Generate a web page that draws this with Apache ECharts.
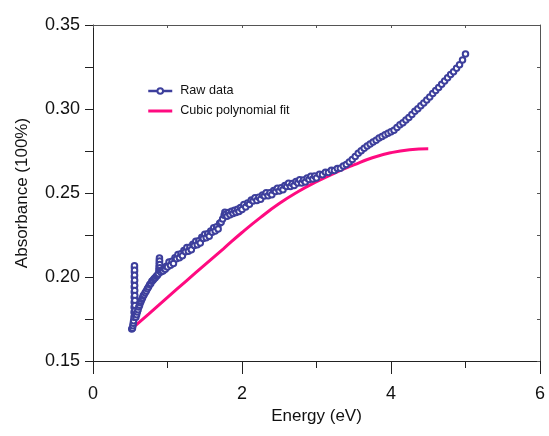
<!DOCTYPE html>
<html>
<head>
<meta charset="utf-8">
<script src="https://cdn.jsdelivr.net/npm/echarts@6/dist/echarts.min.js"></script>
<style>
html,body{margin:0;padding:0;background:#fff;}
#chart{width:549px;height:436px;}
</style>
</head>
<body>
<div id="chart"></div>
<script>
// ---- Data ----
var rawEnergy = [
  0.520,0.530,0.535,0.540,0.545,
  0.550,0.551,0.552,0.553,0.553,0.554,0.554,0.555,0.555,0.556,0.556,0.557,
  0.558,0.558,0.559,0.559,0.560,0.561,0.562,0.563,0.565,0.568,
  0.575,0.585,0.595,0.605,0.615,0.625,0.635,0.645,0.655,0.665,0.675,0.685,
  0.700,0.715,0.730,0.745,0.760,0.775,0.790,0.805,0.820,0.835,0.850,0.865,0.878,
  0.884,0.886,0.888,0.890,0.892,0.894,0.896,0.898,0.900,
  0.910,0.925,0.940,0.955,0.970,0.985,1.000,
  1.02,1.04,1.06,1.08,1.10,1.12,1.14,1.16,1.18,1.20,
  1.22,1.24,1.26,1.28,1.30,1.32,1.34,1.36,1.38,1.40,
  1.42,1.44,1.46,1.48,1.50,1.52,1.54,1.56,1.58,1.60,
  1.62,1.64,1.66,1.68,1.70,1.72,1.74,1.76,1.77,1.78,
  1.80,1.82,1.84,1.86,1.88,1.90,1.92,1.94,1.96,1.98,2.00,
  2.025,2.050,2.075,2.100,2.125,2.150,2.175,2.200,2.225,2.250,
  2.275,2.300,2.325,2.350,2.375,2.400,2.425,2.450,2.475,2.500,
  2.525,2.550,2.575,2.600,2.625,2.650,2.675,2.700,2.725,2.750,
  2.775,2.800,2.825,2.850,2.875,2.900,2.925,2.950,2.975,3.000,
  3.04,3.08,3.12,3.16,3.20,3.24,3.28,3.32,3.36,3.40,
  3.44,3.48,3.52,3.56,3.60,3.64,3.68,3.72,3.76,3.80,
  3.84,3.88,3.92,3.96,4.00,4.04,4.08,4.12,4.16,4.20,
  4.24,4.28,4.32,4.36,4.40,4.44,4.48,4.52,4.56,4.60,
  4.64,4.68,4.72,4.76,4.80,4.84,4.88,4.92,4.96,5.00
];
var rawAbsorbance = [
  0.1690,0.1695,0.1710,0.1725,0.1740,
  0.1760,0.1790,0.1820,0.1850,0.1880,0.1910,0.1940,0.1970,0.2000,0.2030,0.2055,0.2067,
  0.2040,0.2010,0.1980,0.1950,0.1920,0.1890,0.1860,0.1830,0.1800,0.1775,
  0.1760,0.1775,0.1792,0.1805,0.1822,0.1832,0.1846,0.1856,0.1868,0.1876,0.1888,0.1894,
  0.1906,0.1916,0.1930,0.1940,0.1954,0.1962,0.1974,0.1980,0.1990,0.1995,0.2005,0.2010,0.2020,
  0.2040,0.2060,0.2080,0.2100,0.2113,0.2095,0.2075,0.2055,0.2038,
  0.2030,0.2040,0.2036,0.2052,0.2046,0.2064,0.2060,
  0.2090,0.2070,0.2094,0.2080,0.2114,0.2108,0.2134,0.2115,0.2139,0.2126,
  0.2158,0.2150,0.2175,0.2154,0.2177,0.2162,0.2195,0.2187,0.2213,0.2192,
  0.2216,0.2202,0.2236,0.2229,0.2255,0.2234,0.2257,0.2242,0.2274,0.2266,
  0.2293,0.2274,0.2299,0.2286,0.2320,0.2326,0.2345,0.2368,0.2386,0.2374,
  0.2362,0.2384,0.2370,0.2392,0.2378,0.2398,0.2384,0.2404,0.2390,0.2414,0.2402,
  0.2431,0.2417,0.2440,0.2433,0.2458,0.2452,0.2472,0.2455,0.2474,0.2463,
  0.2488,0.2482,0.2501,0.2484,0.2502,0.2490,0.2515,0.2509,0.2529,0.2512,
  0.2531,0.2520,0.2545,0.2539,0.2558,0.2539,0.2557,0.2544,0.2568,0.2560,
  0.2579,0.2560,0.2578,0.2565,0.2589,0.2581,0.2600,0.2583,0.2601,0.2590,
  0.2612,0.2608,0.2624,0.2622,0.2636,0.2634,0.2646,0.2648,0.2660,0.2670,
  0.2684,0.2700,0.2718,0.2736,0.2752,0.2766,0.2780,0.2792,0.2804,0.2814,
  0.2828,0.2836,0.2846,0.2856,0.2864,0.2874,0.2890,0.2906,0.2918,0.2934,
  0.2950,0.2968,0.2986,0.3002,0.3020,0.3036,0.3054,0.3072,0.3092,0.3110,
  0.3128,0.3148,0.3166,0.3186,0.3205,0.3222,0.3242,0.3264,0.3292,0.3327
];
var fitEnergy = [0.53,0.75,1.00,1.25,1.50,1.75,2.00,2.25,2.50,2.75,3.00,3.25,3.50,3.75,4.00,4.25,4.50];
var fitAbsorbance = [0.1695,0.1781,0.1879,0.1976,0.2072,0.2168,0.2265,0.2355,0.2437,0.2507,0.2567,0.2620,0.2667,0.2710,0.2740,0.2758,0.2764];
var seriesNames = ['Raw data','Cubic polynomial fit'];
var xAxisTitle = 'Energy (eV)';
var yAxisTitle = 'Absorbance (100%)';
var xTicks = {min:0, max:6, step:2};
var yTicks = {min:0.15, max:0.35, step:0.05};

function zip(a, b){ var out=[]; for (var i=0;i<a.length;i++) out.push([a[i], b[i]]); return out; }

var FONT = '"Liberation Sans", Arial, sans-serif';
var BLUE = '#3d3f9c';
var PINK = '#ff0a80';

var chart = echarts.init(document.getElementById('chart'), null, {renderer:'canvas'});
chart.setOption({
  animation: false,
  backgroundColor: '#ffffff',
  textStyle: {fontFamily: FONT},
  grid: {left: 93, right: 9, top: 25, bottom: 75, containLabel: false},
  legend: {
    data: [
      {name: seriesNames[0], lineStyle: {width: 2.5}},
      {name: seriesNames[1], icon: 'path://M0,0H24V3H0Z'}
    ],
    orient: 'vertical',
    left: 147, top: 84,
    itemWidth: 24, itemHeight: 7, itemGap: 6,
    padding: 0,
    textStyle: {fontSize: 12.6, color: '#111', fontFamily: FONT, lineHeight: 14, padding: [0,0,0,3]}
  },
  xAxis: [{
    type: 'value', position: 'bottom',
    min: xTicks.min, max: xTicks.max, interval: xTicks.step,
    name: xAxisTitle, nameLocation: 'middle', nameGap: 44,
    nameTextStyle: {fontSize: 17, color: '#111', fontFamily: FONT},
    axisLine: {show: true, onZero: false, lineStyle: {color: '#222', width: 1}},
    axisTick: {show: true, inside: false, length: 13, lineStyle: {color: '#222', width: 1}},
    minorTick: {show: true, splitNumber: 2, length: 7, lineStyle: {color: '#222', width: 1}},
    axisLabel: {fontSize: 18, color: '#111', margin: 24, fontFamily: FONT},
    splitLine: {show: false}, minorSplitLine: {show: false}
  },{
    type: 'value', position: 'top',
    min: xTicks.min, max: xTicks.max, interval: 1,
    axisLine: {show: true, onZero: false, lineStyle: {color: '#555', width: 1}},
    axisTick: {show: true, inside: true, length: 3, lineStyle: {color: '#555'}},
    axisLabel: {show: false},
    splitLine: {show: false}
  }],
  yAxis: [{
    type: 'value', position: 'left',
    min: yTicks.min, max: yTicks.max, interval: yTicks.step,
    name: yAxisTitle, nameLocation: 'middle', nameGap: 62,
    nameTextStyle: {fontSize: 17, color: '#111', fontFamily: FONT},
    axisLine: {show: true, onZero: false, lineStyle: {color: '#222', width: 1}},
    axisTick: {show: true, inside: false, length: 8, lineStyle: {color: '#222', width: 1}},
    minorTick: {show: true, splitNumber: 2, length: 8, lineStyle: {color: '#222', width: 1}},
    axisLabel: {fontSize: 18, color: '#111', margin: 13, fontFamily: FONT,
      formatter: function(v){ return v.toFixed(2); }},
    splitLine: {show: false}, minorSplitLine: {show: false}
  },{
    type: 'value', position: 'right',
    min: yTicks.min, max: yTicks.max, interval: 0.025,
    axisLine: {show: true, onZero: false, lineStyle: {color: '#555', width: 1}},
    axisTick: {show: true, inside: true, length: 3, lineStyle: {color: '#555'}},
    axisLabel: {show: false},
    splitLine: {show: false}
  }],
  series: [{
    name: seriesNames[0],
    type: 'line',
    xAxisIndex: 0, yAxisIndex: 0,
    data: zip(rawEnergy, rawAbsorbance),
    symbol: 'emptyCircle', symbolSize: 5.5, showSymbol: true, showAllSymbol: true,
    lineStyle: {color: BLUE, width: 1},
    itemStyle: {color: BLUE, borderColor: BLUE, borderWidth: 0.9},
    emphasis: {disabled: true}
  },{
    name: seriesNames[1],
    type: 'line',
    xAxisIndex: 0, yAxisIndex: 0,
    data: zip(fitEnergy, fitAbsorbance),
    smooth: true, symbol: 'none',
    lineStyle: {color: PINK, width: 3},
    itemStyle: {color: PINK},
    emphasis: {disabled: true}
  }]
});
</script>
</body>
</html>
